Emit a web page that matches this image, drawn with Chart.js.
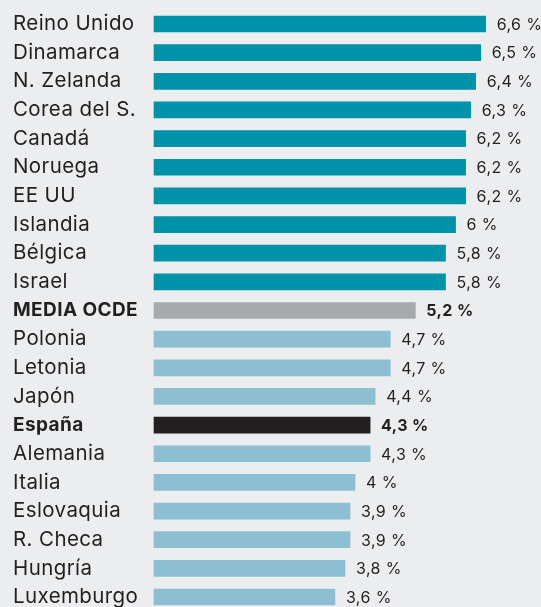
<!DOCTYPE html>
<html>
<head>
<meta charset="utf-8">
<script src="https://cdn.jsdelivr.net/npm/chart.js@4.4.1/dist/chart.umd.min.js"></script>
<style>
  html, body { margin: 0; padding: 0; background: #ECEDEF; overflow: hidden; }
  #wrap { position: relative; width: 541px; height: 607px; }
</style>
</head>
<body>
<div id="wrap"><canvas id="c" width="541" height="607"></canvas></div>
<script>
const categories = ["Reino Unido","Dinamarca","N. Zelanda","Corea del S.","Canadá","Noruega","EE UU","Islandia","Bélgica","Israel","MEDIA OCDE","Polonia","Letonia","Japón","España","Alemania","Italia","Eslovaquia","R. Checa","Hungría","Luxemburgo"];
const values = [6.6,6.5,6.4,6.3,6.2,6.2,6.2,6.0,5.8,5.8,5.2,4.7,4.7,4.4,4.3,4.3,4.0,3.9,3.9,3.8,3.6];
const highlighted = ["MEDIA OCDE","España"];

const TEAL = "#0092A9", LIGHT = "#8BBFD1", GRAY = "#A8A9AD", BLACK = "#231F20", TEXT = "#231F20";
const FONT = "Inter";

function barColor(i) {
  const c = categories[i];
  if (c === "MEDIA OCDE") return GRAY;
  if (c === "España") return BLACK;
  return values[i] > 5.2 ? TEAL : LIGHT;
}
function fmt(v) { return String(v).replace(".", ",") + " %"; }

const spacing = {
  id: "spacing",
  beforeDraw(chart) { chart.ctx.letterSpacing = "0.4px"; }
};

const valueLabels = {
  id: "valueLabels",
  afterDatasetsDraw(chart) {
    const ctx = chart.ctx;
    const meta = chart.getDatasetMeta(0);
    ctx.save();
    ctx.letterSpacing = "0.4px";
    ctx.textBaseline = "middle";
    ctx.textAlign = "left";
    ctx.fillStyle = TEXT;
    meta.data.forEach((bar, i) => {
      const bold = highlighted.includes(categories[i]);
      ctx.font = (bold ? "bold " : "") + "16px " + FONT;
      ctx.fillText(fmt(values[i]), bar.x + 11, bar.y + 1);
    });
    ctx.restore();
  }
};

new Chart(document.getElementById("c"), {
  type: "bar",
  data: {
    labels: categories,
    datasets: [{
      data: values,
      backgroundColor: values.map((v, i) => barColor(i)),
      barThickness: 16,
      borderWidth: 0,
      clip: false
    }]
  },
  options: {
    indexAxis: "y",
    responsive: false,
    animation: false,
    devicePixelRatio: 1,
    layout: { padding: { left: 13, right: 0, top: 24, bottom: 10 } },
    plugins: { legend: { display: false }, tooltip: { enabled: false } },
    scales: {
      x: { display: false, min: 0, max: 7.7 },
      y: {
        offset: false,
        grid: { display: false },
        border: { display: false },
        afterFit(scale) {
          scale.width = 141;
          scale.paddingTop = 0;
          scale.paddingBottom = 0;
        },
        ticks: {
          crossAlign: "far",
          padding: 0,
          autoSkip: false,
          color: TEXT,
          font: (ctx) => {
            const lbl = ctx.tick ? ctx.tick.label : "";
            const bold = highlighted.includes(lbl);
            return { family: FONT, size: bold ? 19 : 20.5, weight: bold ? "bold" : "normal", lineHeight: 1 };
          }
        }
      }
    }
  },
  plugins: [spacing, valueLabels]
});
</script>
</body>
</html>
